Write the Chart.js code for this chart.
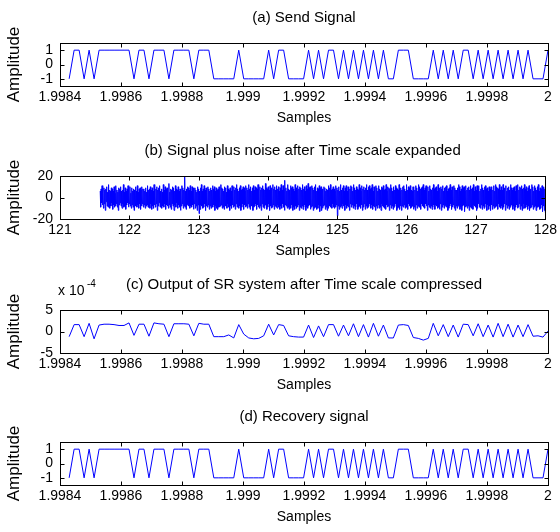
<!DOCTYPE html>
<html>
<head>
<meta charset="utf-8">
<script src="https://cdn.jsdelivr.net/npm/chart.js@4/dist/chart.umd.min.js"></script>
<style>
  body { margin: 0; background: #fff; }
  .panel { position: absolute; left: 0; width: 560px; height: 133px; }
</style>
</head>
<body>
<div class="panel" style="top:0px"><canvas id="chartA" width="560" height="133"></canvas></div>
<div class="panel" style="top:133px"><canvas id="chartB" width="560" height="133"></canvas></div>
<div class="panel" style="top:267px"><canvas id="chartC" width="560" height="133"></canvas></div>
<div class="panel" style="top:399px"><canvas id="chartD" width="560" height="133"></canvas></div>
<script>
// tick labels
const timeTicks = ["1.9984", "1.9986", "1.9988", "1.999", "1.9992", "1.9994", "1.9996", "1.9998", "2"];
const noiseXTicks = ["121", "122", "123", "124", "125", "126", "127", "128"];
const bitYTicks = ["-1", "0", "1"];
const noiseYTicks = ["-20", "0", "20"];
const srYTicks = ["-5", "0", "5"];

// sample times of panels a, c, d
const sampleStart = 1.99843;
const sampleEnd = 2.0;

// (a) send signal, one value per sample
const sendSignal = [
  -1, 1, 1, -1, 1, -1, 1, 1, 1, 1, 1, 1, 1, -1, 1, 1, -1, 1, 1, 1,
  -1, 1, 1, 1, 1, -1, 1, 1, 1, -1, -1, -1, -1, -1, 1, -1, -1, -1, -1, -1,
  1, -1, 1, 1, -1, -1, -1, -1, 1, -1, 1, -1, 1, 1, -1, 1, -1, 1, -1, 1,
  -1, 1, -1, 1, -1, -1, 1, 1, 1, -1, -1, -1, -1, 1, -1, 1, -1, 1, -1, 1,
  1, -1, 1, -1, 1, -1, 1, -1, 1, -1, 1, -1, 1, -1, -1, -1, 1
];

// (c) output of SR system, in units of 1e-4
const srOutput = [
  -1.2, 1.6, 1.6, -1.2, 1.9, -1.7, 1.5, 1.7, 1.7, 1.6, 1.4, 1.4, 2.0, -0.9, 1.7, 1.7, -1.1, 2.0, 1.8, 1.7,
  -1.2, 1.8, 1.8, 1.8, 1.7, -1.0, 1.9, 1.7, 1.7, -1.2, -1.2, -1.2, -0.8, -1.5, 1.6, -0.6, -1.5, -1.7, -1.6, -1.0,
  1.7, -0.8, 1.6, 1.4, -1.0, -1.2, -1.3, -1.3, 1.5, -1.4, 1.3, -1.2, 1.6, 1.6, -1.1, 1.5, -1.0, 1.8, -1.2, 1.6,
  -1.3, 1.9, -1.1, 1.5, -1.5, -1.5, 1.5, 1.6, 1.4, -1.4, -1.6, -2.0, -1.6, 1.9, -1.0, 1.6, -1.2, 1.5, -1.3, 1.7,
  1.6, -1.0, 1.8, -1.2, 1.5, -1.3, 1.9, -1.2, 1.7, -1.3, 1.5, -1.2, 1.6, -1.1, -1.0, -1.3, 0.1
];

// (d) recovered signal reads the same as the send signal
const recoverySignal = sendSignal.slice();

// (b) signal plus noise, time scale expanded
const noiseStart = 121.58;
const noiseEnd = 128;
const noisySignal = [
  6, -9, 8, -5, 11, -7, 4, -10, 9, -6, 7, -12, 8, -4, 10, -8, 5, -9, 12, -6, 7, -10, 6, -8,
  9, -5, 8, -11, 6, -7, 10, -9, 4, -8, 11, -6, 7, -9, 5, -12, 9, -7, 8, -5, 10, -8, 6, -10,
  7, -6, 12, -9, 5, -8, 9, -11, 6, -7, 8, -5, 11, -9, 7, -6, 10, -8, 4, -10, 9, -7, 6, -9,
  8, -12, 7, -5, 10, -8, 6, -9, 11, -7, 5, -10, 8, -6, 9, -11, 7, -8, 10, -6, 8, -9, 8, -7,
  6, -10, 9, -8, 5, -7, 11, -9, 7, -9, 8, -10, 10, -6, 7, -11, 9, -8, 6, -10, 12, -7, 5, -9,
  8, -6, 10, -12, 7, -8, 9, -5, 11, -9, 6, -7, 8, -10, 5, -8, 12, -9, 7, -6, 10, -11, 8, -7,
  9, -8, 6, -10, 13, -7, 5, -9, 8, -11, 7, -6, 10, -8, 9, -12, 6, -7, 11, -9, 8, -5, 7, -10,
  10, -7, 6, -9, 8, -12, 5, -8, 11, -6, 9, -10, 7, -8, 19, -9, 6, -11, 8, -7, 10, -6, 9, -8,
  7, -10, 11, -8, 6, -9, 10, -7, 9, -11, 8, -6, 9, -10, 7, -8, 5, -12, 10, -7, 8, -15, 6, -11,
  9, -7, 12, -8, 6, -10, 8, -9, 11, -6, 7, -12, 9, -8, 5, -9, 10, -7, 8, -11, 6, -8, 9, -10,
  7, -6, 11, -9, 8, -7, 10, -12, 6, -8, 9, -10, 7, -11, 8, -9, 10, -9, 6, -8, 12, -7, 9, -10,
  8, -9, 6, -11, 10, -7, 9, -8, 5, -10, 11, -6, 8, -9, 7, -12, 9, -8, 6, -10, 11, -7, 8, -9,
  10, -8, 7, -11, 9, -6, 12, -9, 8, -7, 6, -10, 9, -8, 11, -12, 7, -9, 8, -6, 10, -11, 9, -7,
  6, -9, 11, -8, 9, -10, 7, -6, 12, -9, 8, -11, 10, -7, 6, -8, 9, -12, 11, -9, 7, -8, 10, -6,
  9, -11, 8, -7, 12, -9, 6, -10, 10, -8, 7, -12, 9, -6, 11, -9, 8, -10, 7, -8, 13, -7, 9, -11,
  8, -9, 10, -6, 7, -12, 11, -8, 9, -10, 6, -9, 12, -7, 8, -11, 10, -8, 7, -9, 11, -10, 8, -7,
  10, -9, 6, -11, 9, -8, 12, -10, 7, -6, 11, -9, 8, -12, 16, -7, 9, -8, 6, -10, 12, -9, 8, -11,
  7, -8, 11, -10, 9, -7, 10, -12, 8, -9, 6, -11, 12, -8, 9, -10, 7, -9, 11, -7, 8, -12, 10, -9,
  9, -10, 7, -8, 12, -11, 8, -9, 10, -7, 6, -12, 11, -9, 8, -10, 13, -8, 9, -7, 10, -11, 8, -9,
  11, -8, 9, -12, 7, -10, 10, -9, 12, -8, 6, -11, 9, -10, 8, -7, 11, -13, 9, -8, 10, -12, 8, -10,
  5, -8, 10, -7, 9, -11, 6, -9, 8, -12, 7, -10, 11, -6, 9, -8, 12, -9, 7, -10, 8, -6, 10, -9,
  8, -10, 6, -9, 11, -7, 9, -17, 7, -8, 10, -11, 6, -9, 12, -8, 7, -10, 9, -6, 11, -8, 6, -12,
  9, -7, 11, -10, 6, -8, 10, -9, 7, -12, 8, -6, 11, -9, 10, -7, 6, -10, 12, -8, 9, -11, 7, -9,
  10, -6, 8, -11, 7, -9, 12, -8, 9, -10, 6, -7, 11, -12, 8, -9, 10, -6, 7, -11, 9, -8, 12, -10,
  7, -9, 10, -8, 11, -6, 8, -10, 9, -7, 12, -11, 6, -8, 10, -9, 7, -12, 11, -8, 9, -10, 6, -7,
  11, -10, 8, -9, 7, -12, 10, -6, 9, -8, 11, -9, 7, -10, 8, -11, 12, -7, 6, -9, 10, -8, 9, -12,
  8, -7, 12, -10, 9, -8, 6, -11, 10, -9, 7, -8, 11, -6, 9, -12, 8, -10, 7, -9, 12, -11, 6, -8,
  9, -12, 7, -8, 10, -9, 11, -7, 8, -10, 6, -9, 12, -8, 7, -11, 10, -6, 9, -8, 11, -10, 7, -9,
  6, -8, 10, -11, 8, -9, 7, -12, 11, -7, 9, -10, 6, -8, 12, -9, 10, -7, 8, -11, 9, -6, 10, -8,
  12, -9, 7, -10, 9, -6, 11, -8, 8, -12, 10, -7, 6, -9, 11, -10, 8, -8, 7, -11, 9, -9, 12, -7,
  8, -11, 9, -7, 10, -8, 6, -10, 12, -9, 7, -11, 9, -6, 10, -12, 8, -9, 11, -7, 6, -10, 9, -8,
  10, -7, 11, -9, 6, -12, 8, -10, 9, -8, 12, -6, 7, -11, 10, -9, 8, -7, 11, -10, 9, -12, 7, -8,
  7, -10, 9, -8, 12, -7, 10, -11, 6, -9, 8, -12, 11, -8, 9, -7, 10, -13, 6, -9, 11, -8, 7, -10,
  9, -8, 10, -12, 7, -9, 11, -6, 8, -10, 9, -11, 12, -7, 6, -8, 10, -9, 7, -12, 11, -10, 8, -6,
  11, -9, 6, -10, 8, -7, 12, -11, 9, -8, 7, -10, 10, -9, 11, -6, 8, -12, 9, -7, 6, -11, 10, -8,
  8, -12, 10, -7, 9, -11, 7, -8, 11, -10, 6, -9, 12, -8, 10, -7, 9, -11, 8, -6, 12, -9, 7, -10,
  10, -8, 7, -11, 12, -9, 8, -6, 9, -12, 11, -7, 6, -10, 9, -8, 10, -11, 7, -9, 12, -8, 9, -7,
  7, -11, 9, -8, 10, -12, 6, -9, 11, -7, 8, -10, 12, -9, 7, -6, 10, -11, 9, -8, 11, -12, 8, -10,
  9, -6, 12, -10, 8, -9, 10, -7, 6, -11, 9, -8, 11, -12, 7, -10, 8, -9, 12, -7, 10, -11, 6, -9,
  11, -8, 9, -12, 7, -10, 10, -9, 12, -8, 6, -11, 9, -10, 8, -7, 11, -13, 9, -8, 10, -12, 8, -14
];

const FONT = '"Liberation Sans", Arial, sans-serif';

function toPoints(values, start, end) {
  const step = (end - start) / (values.length - 1);
  return values.map((v, k) => ({ x: start + k * step, y: v }));
}

// draws the matlab style box, inward ticks, panel title and exponent
const boxPlugin = {
  id: "matlabBox",
  afterDraw(chart, args, opts) {
    const { ctx, chartArea: a, scales } = chart;
    const left = Math.round(a.left) + 0.5, right = Math.round(a.right) + 0.5;
    const top = Math.round(a.top) + 0.5, bottom = Math.round(a.bottom) + 0.5;
    ctx.save();
    ctx.strokeStyle = "#000";
    ctx.lineWidth = 1;
    ctx.strokeRect(left, top, right - left, bottom - top);
    ctx.beginPath();
    scales.x.ticks.forEach(t => {
      const px = Math.round(scales.x.getPixelForValue(t.value)) + 0.5;
      ctx.moveTo(px, top); ctx.lineTo(px, top + 4);
      ctx.moveTo(px, bottom); ctx.lineTo(px, bottom - 4);
    });
    scales.y.ticks.forEach(t => {
      const py = Math.round(scales.y.getPixelForValue(t.value)) + 0.5;
      ctx.moveTo(left, py); ctx.lineTo(left + 4, py);
      ctx.moveTo(right, py); ctx.lineTo(right - 4, py);
    });
    ctx.stroke();

    ctx.fillStyle = "#000";
    ctx.font = "15px " + FONT;
    ctx.textAlign = "center";
    ctx.textBaseline = "middle";
    ctx.fillText(opts.title, (a.left + a.right) / 2, a.top - 25);
    if (opts.exponent) {
      ctx.font = "14px " + FONT;
      ctx.textAlign = "left";
      ctx.fillText("x 10", a.left - 2, a.top - 19);
      ctx.font = "10px " + FONT;
      ctx.fillText(opts.exponent, a.left + 27, a.top - 26);
    }
    ctx.restore();
  }
};

function makePanel(id, cfg) {
  new Chart(document.getElementById(id), {
    type: "line",
    data: {
      datasets: [{
        data: cfg.points,
        borderColor: "#0000ff",
        borderWidth: 1,
        pointRadius: 0,
        tension: 0,
        fill: false
      }]
    },
    options: {
      responsive: false,
      animation: false,
      parsing: false,
      layout: { padding: { top: 43, right: 12, left: 0, bottom: 0 } },
      plugins: {
        legend: { display: false },
        tooltip: { enabled: false },
        matlabBox: { title: cfg.title, exponent: cfg.exponent }
      },
      scales: {
        x: {
          type: "linear",
          min: Number(cfg.xTicks[0]),
          max: Number(cfg.xTicks[cfg.xTicks.length - 1]),
          afterBuildTicks: s => { s.ticks = cfg.xTicks.map(v => ({ value: Number(v) })); },
          afterFit: s => { s.height = 47; },
          grid: { display: false, drawTicks: false },
          border: { display: false },
          ticks: {
            autoSkip: false, maxRotation: 0, padding: 3, color: "#000",
            font: { family: FONT, size: 14 },
            callback: (v, i) => cfg.xTicks[i]
          },
          title: {
            display: true, text: "Samples", color: "#000",
            font: { family: FONT, size: 14 }, padding: { top: 0, bottom: 6 }
          }
        },
        y: {
          min: cfg.yRange[0],
          max: cfg.yRange[1],
          afterBuildTicks: s => { s.ticks = cfg.yTicks.map(v => ({ value: Number(v) })); },
          afterFit: s => { s.width = 60; },
          grid: { display: false, drawTicks: false },
          border: { display: false },
          ticks: {
            padding: 7, color: "#000",
            font: { family: FONT, size: 14 },
            callback: (v, i) => cfg.yTicks[i]
          },
          title: {
            display: true, text: "Amplitude", color: "#000",
            font: { family: FONT, size: 17 }, padding: { top: 4, bottom: 0 }
          }
        }
      }
    },
    plugins: [boxPlugin]
  });
}

makePanel("chartA", {
  title: "(a) Send Signal",
  points: toPoints(sendSignal, sampleStart, sampleEnd),
  xTicks: timeTicks, yTicks: bitYTicks, yRange: [-1.5, 1.5]
});
makePanel("chartB", {
  title: "(b) Signal plus noise after Time scale expanded",
  points: toPoints(noisySignal, noiseStart, noiseEnd),
  xTicks: noiseXTicks, yTicks: noiseYTicks, yRange: [-20, 20]
});
makePanel("chartC", {
  title: "(c) Output of SR system after Time scale compressed",
  exponent: "-4",
  points: toPoints(srOutput, sampleStart, sampleEnd),
  xTicks: timeTicks, yTicks: srYTicks, yRange: [-5, 5]
});
makePanel("chartD", {
  title: "(d) Recovery signal",
  points: toPoints(recoverySignal, sampleStart, sampleEnd),
  xTicks: timeTicks, yTicks: bitYTicks, yRange: [-1.5, 1.5]
});
</script>
</body>
</html>
